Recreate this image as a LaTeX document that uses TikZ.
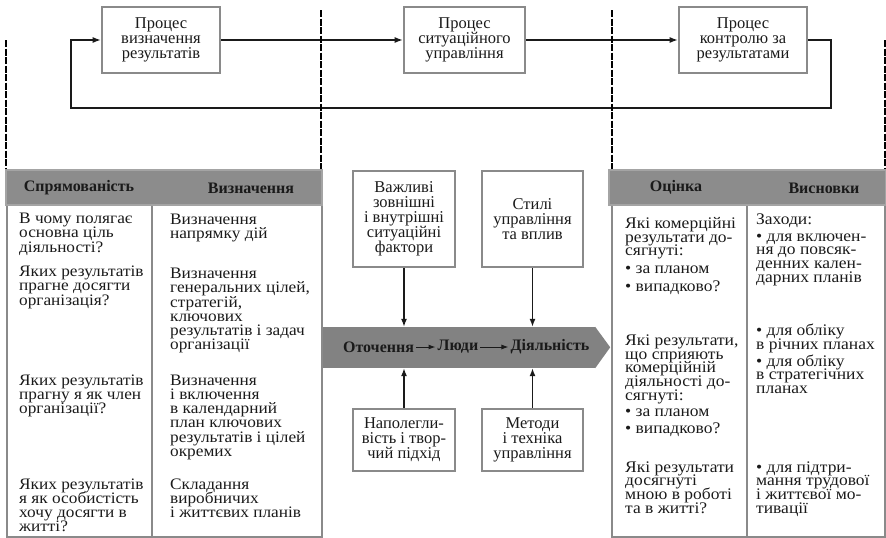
\documentclass[tikz,border=0pt]{standalone}
\usepackage{fontspec}
\setmainfont{Liberation Serif}
\newfontfamily\cellfont{Liberation Serif}[FakeStretch=1.08]
\usetikzlibrary{arrows.meta}
\lineskiplimit=-30pt
\definecolor{framegray}{HTML}{8A8A8A}
\definecolor{headgray}{HTML}{8C8C8C}
\definecolor{headedge}{HTML}{A4A4A4}
\definecolor{bandgray}{HTML}{828282}
\definecolor{ink}{HTML}{1A1A1A}
\newcommand{\tstrut}{\rule{0pt}{11pt}}

\begin{document}
\begin{tikzpicture}[x=1pt,y=-1pt,
  every node/.style={text=ink},
  procbox/.style={draw=framegray, line width=2.6pt, fill=white, align=center,
    inner sep=0pt, font=\fontsize{16.5}{15}\selectfont},
  conn/.style={draw=ink, line width=1.3pt, -{Latex[length=8pt,width=6pt]}},
  divline/.style={draw=black, line width=1.8pt, dash pattern=on 7pt off 1.5pt},
  headcell/.style={fill=headgray, draw=headedge, line width=2pt},
  tablerule/.style={draw=framegray, line width=2pt},
  headtext/.style={font=\fontsize{16}{16}\bfseries\selectfont, inner sep=0pt},
  celltext/.style={anchor=north west, align=left, inner sep=0pt,
    font=\cellfont\fontsize{16}{14.2}\selectfont},
  celltextr/.style={anchor=north west, align=left, inner sep=0pt,
    font=\cellfont\fontsize{16.2}{13.6}\selectfont},
  bandtext/.style={font=\fontsize{16}{16}\bfseries\selectfont, inner sep=2pt},
  bandarrow/.style={draw=ink, line width=1pt, -{Latex[length=7pt,width=5pt]}}
]
\useasboundingbox (0,0) rectangle (886,538);

% --- process chain ---
\node[procbox, minimum width=118, minimum height=66] (p1) at (161,40)
  {Процес\\визначення\\результатів};
\node[procbox, minimum width=121, minimum height=66] (p2) at (464.5,40)
  {Процес\\ситуаційного\\управління};
\node[procbox, minimum width=128, minimum height=66] (p3) at (743,40)
  {Процес\\контролю за\\результатами};

\coordinate (fbR) at (831,108);
\coordinate (fbL) at (71,108);
\draw[conn] (p1.east) -- (p2.west);
\draw[conn] (p2.east) -- (p3.west);
\draw[conn] (p3.east) -| (fbR) -- (fbL) |- (p1.west);

% --- dashed dividers ---
\draw[divline] (6,40) -- (6,170);
\draw[divline] (321,10) -- (321,170);
\draw[divline] (612,10) -- (612,170);
\draw[divline] (885,40) -- (885,170);

% --- left table ---
\draw[tablerule] (7,205) rectangle (322,537);
\draw[tablerule] (152,205) -- (152,537);
\draw[headcell] (6,170) rectangle (322,205);
\node[headtext] (hL1) at (79,187.5) {Спрямованість};
\node[headtext] (hL2) at (251,188) {Визначення};

\node[celltext] (l11) at (19,212.5) {\tstrut В чому полягає\\основна ціль\\діяльності?};
\node[celltext] (l21) at (19,265.5) {\tstrut Яких результатів\\прагне досягти\\організація?};
\node[celltext] (l31) at (19,374) {\tstrut Яких результатів\\прагну я як член\\організації?};
\node[celltext] (l41) at (19,478) {\tstrut Яких результатів\\я як особистість\\хочу досягти в\\житті?};

\node[celltext] (l12) at (170,213.5) {\tstrut Визначення\\напрямку дій};
\node[celltext] (l22) at (170,267.5) {\tstrut Визначення\\генеральних цілей,\\стратегій,\\ключових\\результатів і задач\\організації};
\node[celltext] (l32) at (170,374) {\tstrut Визначення\\і включення\\в календарний\\план ключових\\результатів і цілей\\окремих};
\node[celltext] (l42) at (170,478) {\tstrut Складання\\виробничих\\і життєвих планів};

% --- right table ---
\draw[tablerule] (612,205) rectangle (885,537);
\draw[tablerule] (747,205) -- (747,537);
\draw[headcell] (609,170) rectangle (886,205);
\node[headtext] (hR1) at (676,187.5) {Оцінка};
\node[headtext] (hR2) at (824,188) {Висновки};

\node[celltextr] (r11) at (625,217.5) {\tstrut Які комерційні\\результати до-\\сягнуті:\\[4pt]• за планом\\[4pt]• випадково?};
\node[celltextr] (r21) at (625,334.5) {\tstrut Які результати,\\що сприяють\\комерційній\\діяльності до-\\сягнуті:\\[3pt]• за планом\\[3pt]• випадково?};
\node[celltextr] (r31) at (625,461) {\tstrut Які результати\\досягнуті\\мною в роботі\\та в житті?};

\node[celltextr] (r12) at (756,213.5) {\tstrut Заходи:\\[3pt]• для включен-\\ня до повсяк-\\денних кален-\\дарних планів};
\node[celltextr] (r22) at (756,324) {\tstrut • для обліку\\в річних планах\\[3pt]• для обліку\\в стратегічних\\планах};
\node[celltextr] (r32) at (756,461) {\tstrut • для підтри-\\мання трудової\\і життєвої мо-\\тивації};

% --- central band ---
\node[fill=bandgray, minimum width=272, minimum height=41, inner sep=0pt] (band) at (459,347.5) {};
\fill[bandgray] (band.north east) -- ++(15,20.5) -- (band.south east) -- cycle;
\node[bandtext] (env) at (378.5,347) {Оточення};
\node[bandtext] (ppl) at (458,347) {Люди};
\node[bandtext] (act) at (550,347) {Діяльність};
\draw[bandarrow] (env) -- (ppl);
\draw[bandarrow] (ppl) -- (act);

% --- influencing factors ---
\node[procbox, minimum width=102, minimum height=96] (fa) at (404,219)
  {Важливі\\зовнішні\\і внутрішні\\ситуаційні\\фактори};
\node[procbox, minimum width=101, minimum height=96] (fb) at (532.5,219)
  {Стилі\\управління\\та вплив};
\node[procbox, minimum width=102, minimum height=62] (fc) at (404,440)
  {Наполегли-\\вість і твор-\\чий підхід};
\node[procbox, minimum width=101, minimum height=62] (fd) at (532.5,440)
  {Методи\\і техніка\\управління};

\draw[conn] (fa.south) -- (fa.south |- band.north);
\draw[conn] (fb.south) -- (fb.south |- band.north);
\draw[conn] (fc.north) -- (fc.north |- band.south);
\draw[conn] (fd.north) -- (fd.north |- band.south);
\end{tikzpicture}
\end{document}
